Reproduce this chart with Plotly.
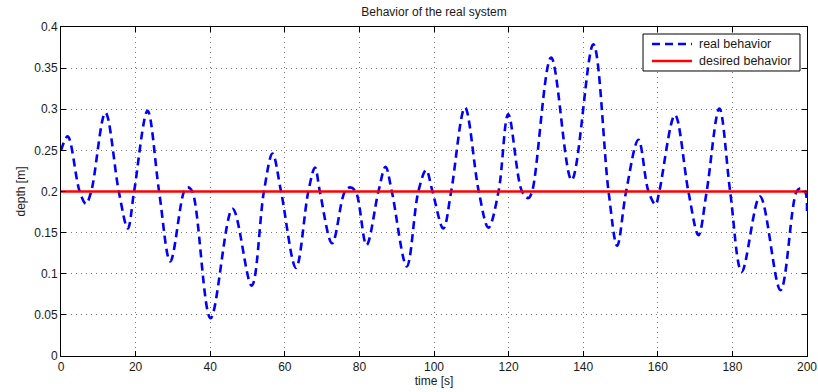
import plotly.graph_objects as go

# time [s] and depth [m] (extrema and crossings of 0.2)
time_s = [0, 1.8, 5.0, 6.7, 8.1, 11.9, 15.5, 17.9, 19.6, 23.2, 26.3, 29.3, 33.0, 34.0, 35.2,
          40.1, 46.0, 51.1, 54.4, 56.7, 59.0, 63.0, 66.3, 68.1, 69.4, 72.7, 76.1, 77.5, 79.0,
          81.9, 85.1, 87.0, 88.7, 92.7, 95.8, 97.9, 99.6, 102.5, 104.6, 108.3, 112.0, 114.6,
          117.3, 119.9, 123.6, 125.3, 126.3, 131.4, 136.9, 142.7, 146.8, 149.1, 151.5, 154.8,
          157.5, 159.4, 160.4, 164.6, 168.2, 170.9, 173.1, 176.5, 179.4, 182.5, 187.4, 192.9,
          197.2, 198.3, 199.5, 200]
real_depth = [0.250, 0.267, 0.200, 0.185, 0.200, 0.296, 0.200, 0.155, 0.200, 0.298, 0.200, 0.115,
              0.200, 0.205, 0.200, 0.046, 0.179, 0.0855, 0.200, 0.246, 0.200, 0.107, 0.200, 0.229,
              0.200, 0.137, 0.200, 0.205, 0.200, 0.135, 0.200, 0.230, 0.200, 0.109, 0.200, 0.226,
              0.200, 0.155, 0.200, 0.302, 0.200, 0.156, 0.200, 0.294, 0.200, 0.192, 0.200, 0.363,
              0.214, 0.379, 0.200, 0.134, 0.200, 0.263, 0.200, 0.184, 0.200, 0.293, 0.200, 0.147,
              0.200, 0.301, 0.200, 0.1025, 0.194, 0.080, 0.200, 0.204, 0.200, 0.173]
desired_time = [0, 200]
desired_depth = [0.2, 0.2]

x_ticks = list(range(0, 201, 20))
y_ticks = [0, 0.05, 0.1, 0.15, 0.2, 0.25, 0.3, 0.35, 0.4]
y_tick_labels = ["0", "0.05", "0.1", "0.15", "0.2", "0.25", "0.3", "0.35", "0.4"]
legend_labels = ["real behavior", "desired behavior"]

font_family = "Liberation Sans, Arial, sans-serif"
text_color = "#1a1a1a"
blue_line = dict(color="#0000ff", width=2.6, dash="8px,5px")
red_line = dict(color="#ff0000", width=2.6)

fig = go.Figure()
fig.add_trace(go.Scatter(
    x=time_s, y=real_depth, mode="lines", name=legend_labels[0], showlegend=False,
    line=dict(**blue_line, shape="spline", smoothing=1.0),
))
fig.add_trace(go.Scatter(
    x=desired_time, y=desired_depth, mode="lines", name=legend_labels[1], showlegend=False,
    line=red_line,
))

axis_common = dict(
    showline=True, linecolor="black", linewidth=1, mirror="ticks",
    ticks="inside", ticklen=5, tickcolor="black", tickwidth=1,
    showgrid=True, gridcolor="#7a7a7a", griddash="1px,4px", gridwidth=1,
    zeroline=False, automargin=False,
    tickfont=dict(size=12, color=text_color, family=font_family),
)

fig.update_xaxes(range=[0, 200], tickvals=x_ticks, ticktext=[str(v) for v in x_ticks],
                 title=dict(text="time [s]", font=dict(size=12, color=text_color), standoff=2),
                 **axis_common)
fig.update_yaxes(range=[0, 0.4], tickvals=y_ticks, ticktext=y_tick_labels,
                 title=dict(text="depth [m]", font=dict(size=12, color=text_color), standoff=6),
                 **axis_common)

# Legend box drawn in paper coordinates (MATLAB-style: long line samples)
box = dict(x0=0.7802, x1=0.9906, y0=0.8663, y1=0.9787)
fig.add_shape(type="rect", xref="paper", yref="paper", **box,
              line=dict(color="black", width=1), fillcolor="white", layer="above")
rows_y = [0.9483, 0.8967]
for yv, ln, label in zip(rows_y, [blue_line, red_line], legend_labels):
    fig.add_shape(type="line", xref="paper", yref="paper", x0=0.7922, x1=0.8458, y0=yv, y1=yv,
                  line=ln, layer="above")
    fig.add_annotation(xref="paper", yref="paper", x=0.8525, y=yv, xanchor="left",
                       yanchor="middle", text=label, showarrow=False,
                       font=dict(size=12.5, color=text_color, family=font_family))

fig.update_layout(
    width=818, height=392,
    margin=dict(l=61, r=11, t=27, b=36),
    paper_bgcolor="white", plot_bgcolor="white",
    font=dict(family=font_family, size=12, color=text_color),
    title=dict(text="Behavior of the real system", x=(61 + 807) / 2 / 818, xanchor="center",
               y=1 - 12 / 392, yanchor="middle", font=dict(size=12, color=text_color),
               automargin=False),
    showlegend=False,
)

fig.write_html("out.html")
